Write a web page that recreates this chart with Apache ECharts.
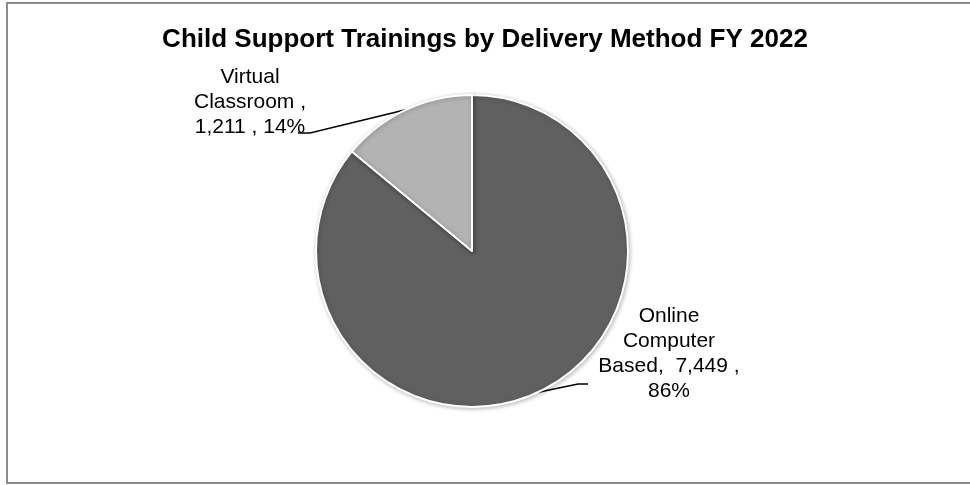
<!DOCTYPE html>
<html>
<head>
<meta charset="utf-8">
<script src="https://cdn.jsdelivr.net/npm/echarts@6/dist/echarts.min.js"></script>
<style>
html,body{margin:0;padding:0;background:#fff;}
#chart{width:970px;height:485px;}
</style>
</head>
<body>
<div id="chart"></div>
<script>
var titleText = 'Child Support Trainings by Delivery Method FY 2022';
var categories = ['Online\nComputer\nBased', 'Virtual\nClassroom'];
var values = [7449, 1211];
var labelTemplates = ['{n},  {v} ,\n{p}%', '{n} ,\n{v} , {p}%'];
var colors = ['#606060', '#b3b3b3'];

var chart = echarts.init(document.getElementById('chart'), null, {renderer: 'canvas'});

// label placement (layout only): centre of label block, and leader line end offsets
var labelPlace = [
  {x: 669, y: 354, bend: [-91, 30], end: [-81, 30]},
  {x: 250, y: 102, bend: [60, 31], end: [48, 31]}
];

var option = {
  animation: false,
  backgroundColor: '#ffffff',
  graphic: [{
    type: 'rect',
    shape: {x: 7, y: 3, width: 975, height: 480},
    style: {fill: 'none', stroke: '#8a8a8a', lineWidth: 2},
    silent: true
  }],
  title: {
    text: titleText,
    left: 'center',
    top: 22,
    textStyle: {
      fontFamily: 'Liberation Sans, Arial, sans-serif',
      fontWeight: 'bold',
      fontSize: 26,
      color: '#000'
    }
  },
  series: [{
    type: 'pie',
    center: [472, 251],
    radius: 156,
    startAngle: 90,
    clockwise: true,
    percentPrecision: 0,
    data: categories.map(function (c, i) {
      return {name: c, value: values[i], itemStyle: {color: colors[i]}};
    }),
    itemStyle: {
      borderColor: '#ffffff',
      borderWidth: 2,
      shadowBlur: 4,
      shadowColor: 'rgba(0,0,0,0.25)',
      shadowOffsetX: 1,
      shadowOffsetY: 1
    },
    label: {
      show: true,
      position: 'outside',
      fontFamily: 'Liberation Sans, Arial, sans-serif',
      fontSize: 21,
      lineHeight: 25,
      color: '#000',
      align: 'center',
      formatter: function (p) {
        var v = p.value.toLocaleString('en-US');
        return labelTemplates[p.dataIndex]
          .replace('{n}', p.name)
          .replace('{v}', v)
          .replace('{p}', Math.round(p.percent));
      }
    },
    labelLine: {
      show: true,
      length: 10,
      length2: 10,
      lineStyle: {color: '#000', width: 1.5}
    },
    labelLayout: function (params) {
      var pl = labelPlace[params.dataIndex];
      var start = params.labelLinePoints ? params.labelLinePoints[0] : [0, 0];
      return {
        x: pl.x,
        y: pl.y,
        align: 'center',
        verticalAlign: 'middle',
        labelLinePoints: [
          start,
          [pl.x + pl.bend[0], pl.y + pl.bend[1]],
          [pl.x + pl.end[0], pl.y + pl.end[1]]
        ]
      };
    },
    emphasis: {disabled: true}
  }]
};
chart.setOption(option);
</script>
</body>
</html>
